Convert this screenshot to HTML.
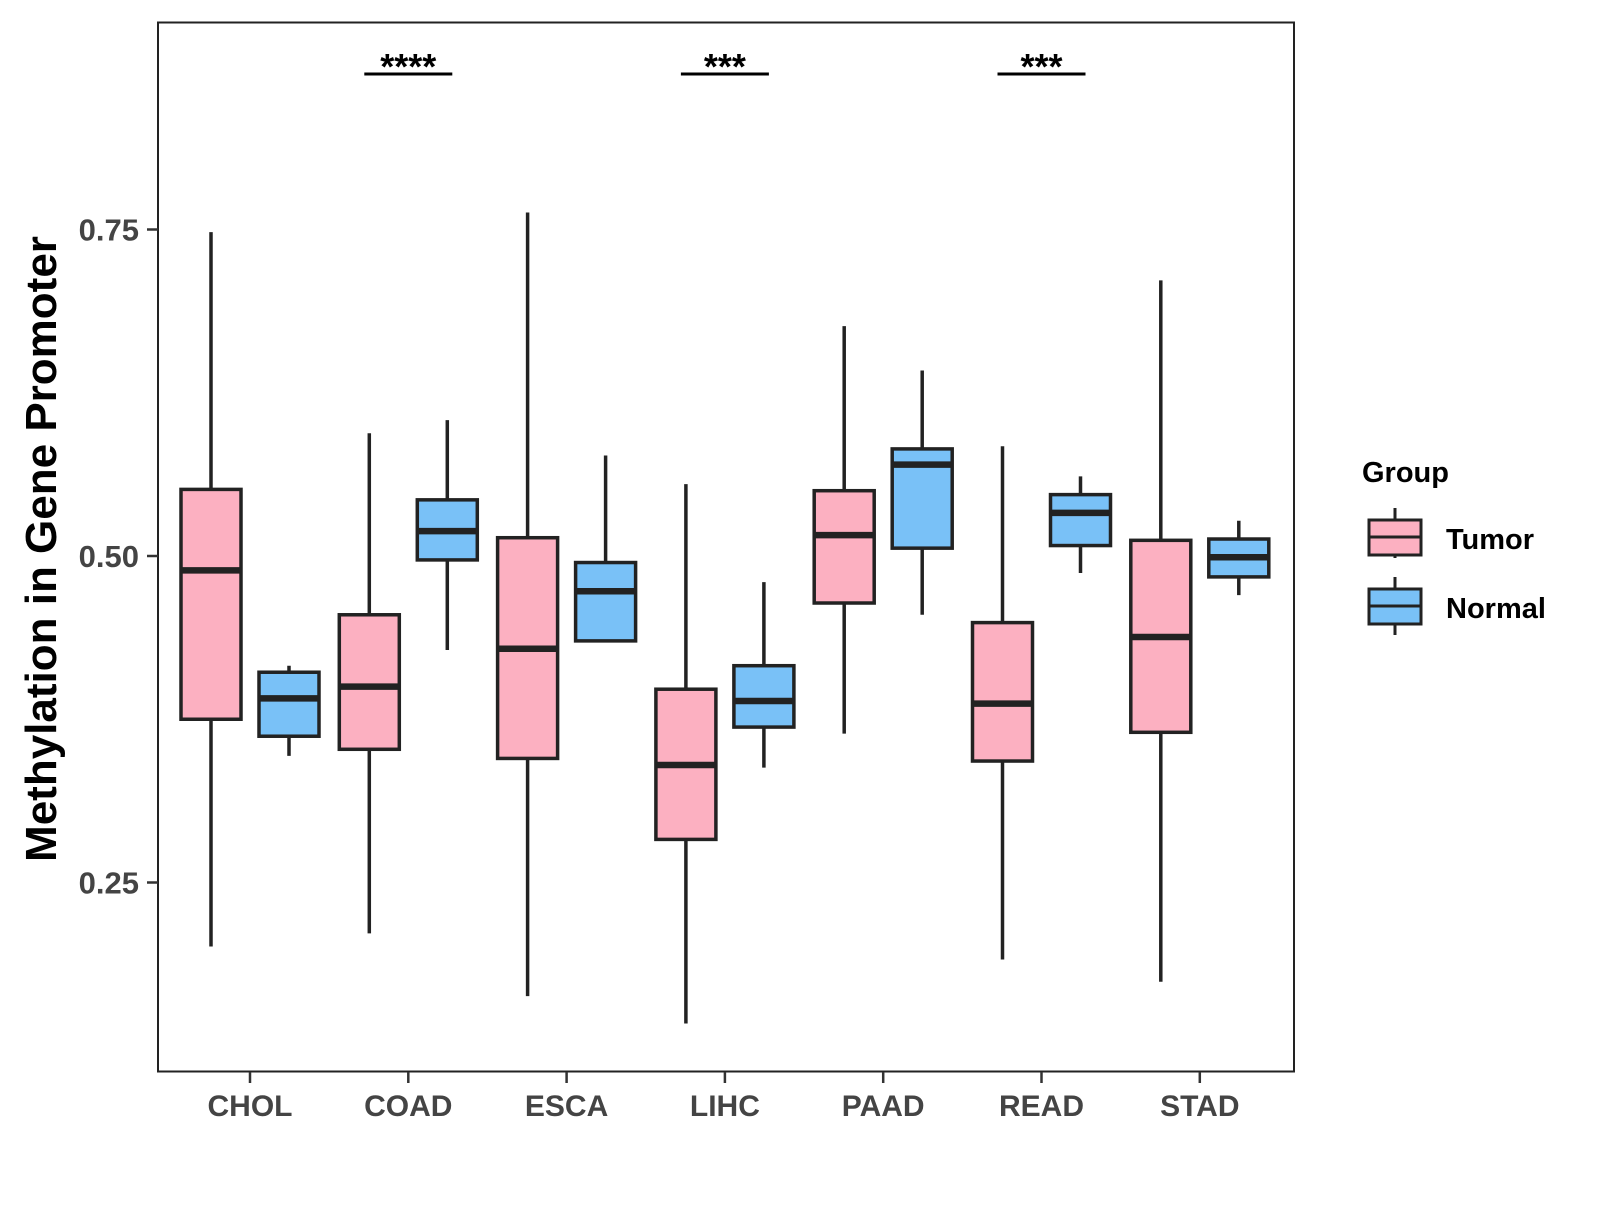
<!DOCTYPE html>
<html><head><meta charset="utf-8"><style>
html,body{margin:0;padding:0;background:#fff;}
svg text{font-family:"Liberation Sans",Arial,sans-serif;font-weight:bold;}
</style></head><body>
<svg id="chart" width="1600" height="1200" viewBox="0 0 1600 1200" xmlns="http://www.w3.org/2000/svg">
<rect x="0" y="0" width="1600" height="1200" fill="#fff"/>
<g id="plot"></g>
<rect x="158" y="22.5" width="1136" height="1049" fill="none" stroke="#222" stroke-width="2"/>
<text transform="translate(56,549) rotate(-90)" text-anchor="middle" font-size="44" fill="#000">Methylation in Gene Promoter</text>
<text x="1362" y="482" font-size="29" fill="#000">Group</text>
<g>
<line x1="1395" y1="508" x2="1395" y2="558" stroke="#222" stroke-width="3"/>
<rect x="1369" y="520" width="52" height="35" fill="#FCB0C1" stroke="#222" stroke-width="3"/>
<line x1="1369" y1="537" x2="1421" y2="537" stroke="#222" stroke-width="3"/>
<text x="1446" y="549" font-size="29" fill="#000">Tumor</text>
</g>
<g>
<line x1="1395" y1="577" x2="1395" y2="635" stroke="#222" stroke-width="3"/>
<rect x="1369" y="589" width="52" height="35" fill="#79C1F7" stroke="#222" stroke-width="3"/>
<line x1="1369" y1="606" x2="1421" y2="606" stroke="#222" stroke-width="3"/>
<text x="1446" y="618" font-size="29" fill="#000">Normal</text>
</g>
</svg>
<script>
const categories = ["CHOL","COAD","ESCA","LIHC","PAAD","READ","STAD"];
// [low, q1, median, q3, high]
const tumorStats = [
 [0.201,0.375,0.489,0.551,0.748],
 [0.211,0.352,0.400,0.455,0.594],
 [0.163,0.345,0.429,0.514,0.763],
 [0.142,0.283,0.340,0.398,0.555],
 [0.364,0.464,0.516,0.550,0.676],
 [0.191,0.343,0.387,0.449,0.584],
 [0.174,0.365,0.438,0.512,0.711]
];
const normalStats = [
 [0.347,0.362,0.391,0.411,0.416],
 [0.428,0.497,0.519,0.543,0.604],
 [0.434,0.435,0.473,0.495,0.577],
 [0.338,0.369,0.389,0.416,0.480],
 [0.455,0.506,0.570,0.582,0.642],
 [0.487,0.508,0.533,0.547,0.561],
 [0.470,0.484,0.499,0.513,0.527]
];
const yTicks = [0.25,0.50,0.75];
const yTickLabels = ["0.25","0.50","0.75"];
const sigCategories = ["COAD","LIHC","READ"];
const sigLabels = ["****","***","***"];

const NS="http://www.w3.org/2000/svg";
const svg=document.getElementById('chart');
const plot=document.getElementById('plot');
function y(v){return 556-(v-0.5)*1306;}
function x(i){return 250+i*158.3;}
function mk(tag,attrs,parent){const e=document.createElementNS(NS,tag);for(const k in attrs)e.setAttribute(k,attrs[k]);(parent||plot).appendChild(e);return e;}
const BW=60, OFF=39;
function drawBox(s,cx,fill,name){
  const g=mk('g',{});
  
  
  mk('line',{x1:cx,x2:cx,y1:y(s[4]),y2:y(s[0]),stroke:'#222','stroke-width':3.5},g);
  mk('rect',{x:cx-BW/2,y:y(s[3]),width:BW,height:y(s[1])-y(s[3]),fill:fill,stroke:'#222','stroke-width':3.5},g);
  mk('line',{x1:cx-BW/2,x2:cx+BW/2,y1:y(s[2]),y2:y(s[2]),stroke:'#222','stroke-width':6.5},g);
}
categories.forEach((c,i)=>{
  drawBox(tumorStats[i],x(i)-OFF,'#FCB0C1','box-tumor-'+c.toLowerCase());
  drawBox(normalStats[i],x(i)+OFF,'#79C1F7','box-normal-'+c.toLowerCase());
  const t=mk('line',{x1:x(i),x2:x(i),y1:1072,y2:1083,stroke:'#333','stroke-width':2.5},svg);
  
  
  const l=mk('text',{x:x(i),y:1116,'text-anchor':'middle','font-size':30,fill:'#444'},svg);
  l.textContent=c;
  
  
});
yTicks.forEach((v,i)=>{
  const t=mk('line',{x1:147,x2:158,y1:y(v),y2:y(v),stroke:'#333','stroke-width':2.5},svg);
  
  
  const l=mk('text',{x:139,y:y(v)+11,'text-anchor':'end','font-size':31,fill:'#444'},svg);
  l.textContent=yTickLabels[i];
  
  
});
sigCategories.forEach((c,j)=>{
  const i=categories.indexOf(c);
  const ln=mk('line',{x1:x(i)-44,x2:x(i)+44,y1:74,y2:74,stroke:'#000','stroke-width':3},svg);
  
  
  const l=mk('text',{x:x(i),y:79,'text-anchor':'middle','font-size':36,fill:'#000'},svg);
  l.textContent=sigLabels[j];
  
  
});
</script>
</body></html>
